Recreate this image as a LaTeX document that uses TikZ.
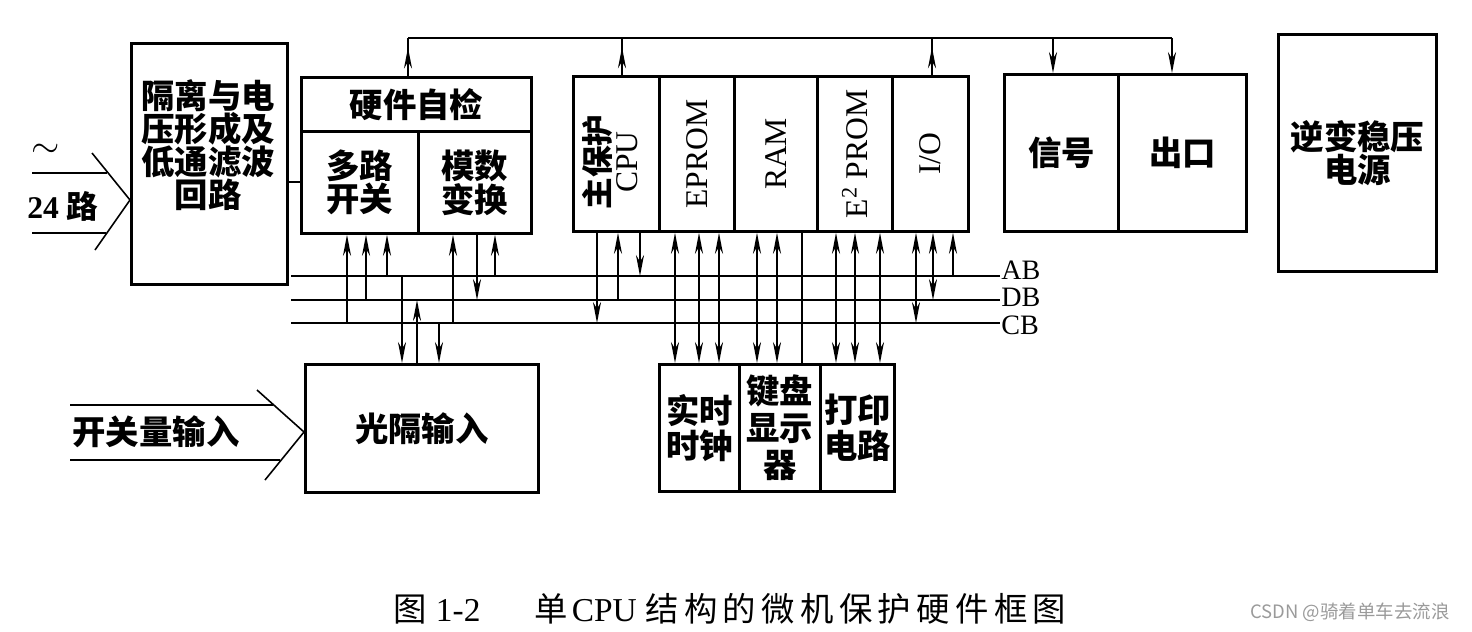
\documentclass[tikz,border=0pt]{standalone}
\usepackage{fontspec}
\setmainfont{Liberation Serif}
\newfontfamily\cjk{Noto Sans CJK SC}
\newfontfamily\cjkcap{Noto Sans CJK SC}[LetterSpace=16]
\usetikzlibrary{arrows.meta,decorations.markings}
\definecolor{wmgray}{HTML}{9A9A9A}
\newlength\pix
\setlength\pix{0.02cm}

\begin{document}
\begin{tikzpicture}[x=0.02cm, y=-0.02cm,
  >={Stealth[length=12pt,width=4.6pt]},
  box/.style={draw, line width=1.6pt, inner sep=0pt, anchor=north west},
  hz/.style={font=\cjk\bfseries\fontsize{19}{#1}\selectfont, align=center, inner sep=0pt},
  hz/.default=18,
  en/.style={font=\fontsize{18}{16}\selectfont, rotate=90, align=center, inner sep=0pt},
  buslabel/.style={font=\fontsize{16}{16}\selectfont, anchor=west, inner sep=0pt, text height=0.66em, text depth=0pt},
  bus/.style={line width=1.2pt},
  link/.style={line width=0.9pt},
  midarrow/.style={postaction={decorate}, decoration={markings, mark=at position #1 with {\arrow{>}}}}]
  \useasboundingbox (0,0) rectangle (1472,632);

  % Boxes
  \node[box, minimum width=156\pix, minimum height=241\pix] (isolate) at (130,42) {};
  \node[box, minimum width=230\pix, minimum height=54\pix] (selftest) at (300,76) {};
  \node[box, minimum width=117\pix, minimum height=102\pix] (mux) at (300,130) {};
  \node[box, minimum width=113\pix, minimum height=102\pix] (adc) at (417,130) {};
  \node[box, minimum width=86\pix, minimum height=155\pix] (cpu) at (572,75) {};
  \node[box, minimum width=75\pix, minimum height=155\pix] (eprom) at (658,75) {};
  \node[box, minimum width=83\pix, minimum height=155\pix] (ram) at (733,75) {};
  \node[box, minimum width=75\pix, minimum height=155\pix] (e2prom) at (816,75) {};
  \node[box, minimum width=76\pix, minimum height=155\pix] (io) at (891,75) {};
  \node[box, minimum width=114\pix, minimum height=157\pix] (sig) at (1003,73) {};
  \node[box, minimum width=128\pix, minimum height=157\pix] (out) at (1117,73) {};
  \node[box, minimum width=158\pix, minimum height=237\pix] (power) at (1277,33) {};
  \node[box, minimum width=233\pix, minimum height=128\pix] (opto) at (304,363) {};
  \node[box, minimum width=80\pix, minimum height=127\pix] (clock) at (658,363) {};
  \node[box, minimum width=81\pix, minimum height=127\pix] (keys) at (738,363) {};
  \node[box, minimum width=74\pix, minimum height=127\pix] (printer) at (819,363) {};

  % Box texts
  \node[hz=18.7] (isolate-txt) at (208,145) {隔离与电\\压形成及\\低通滤波\\回路};
  \node[hz] (selftest-txt) at (selftest.center) {硬件自检};
  \node[hz] (mux-txt) at (mux.center) {多路\\开关};
  \node[hz] (adc-txt) at (adc.center) {模数\\变换};
  \node[en] (cpu-txt) at (610,162) {{\cjk\bfseries 主保护}\\CPU};
  \node[en] (eprom-txt) at (eprom.center) {EPROM};
  \node[en] (ram-txt) at (ram.center) {RAM};
  \node[en] (e2prom-txt) at (e2prom.center) {E\textsuperscript{2} PROM};
  \node[en] (io-txt) at (io.center) {I/O};
  \node[hz] (sig-txt) at (sig.center) {信号};
  \node[hz] (out-txt) at (out.center) {出口};
  \node[hz=18.7] (power-txt) at (power.center) {逆变稳压\\电源};
  \node[hz] (opto-txt) at (opto.center) {光隔输入};
  \node[hz=19.8] (clock-txt) at (clock.center) {实时\\时钟};
  \node[hz=21] (keys-txt) at (keys.center) {键盘\\显示\\器};
  \node[hz=20.4] (printer-txt) at (printer.center) {打印\\电路};

  % Analog input, 24 channels
  \coordinate (acU) at (32,173);
  \coordinate (acL) at (32,233);
  \coordinate (acTip) at (isolate.west |- 0,200);
  \draw[link] (92,153) -- (acTip) -- (95,250);
  \draw[link] (acU) -- (107,173);
  \draw[link] (acL) -- (106,233);
  \node[font=\fontsize{20}{20}\selectfont, inner sep=0pt] (tilde) at (46,151) {$\sim$};
  \node[font=\bfseries\fontsize{18}{18}\selectfont, inner sep=0pt] (ch24) at (63,206) {24 {\cjk 路}};

  % Switch input
  \coordinate (swU) at (70,405);
  \coordinate (swL) at (70,460);
  \coordinate (swTip) at (opto.west |- 0,432);
  \draw[link] (257,390) -- (swTip) -- (265,480);
  \draw[link] (swU) -- (273,405);
  \draw[link] (swL) -- (280,460);
  \node[hz] (sw-txt) at (156,432) {开关量输入};

  % Analog path
  \draw[line width=1.6pt] (isolate.east |- 0,182) -- (mux.west |- 0,182);

  % Top bus
  \coordinate (topL) at (408,38);
  \coordinate (topR) at (1172,38);
  \draw[link] (topL) -- (topR);
  \draw[link, midarrow=0.75] (selftest.north -| topL) -- (topL);
  \draw[link, midarrow=0.75] (622,0 |- cpu.north) -- (622,0 |- topL);
  \draw[link, midarrow=0.75] (932,0 |- io.north) -- (932,0 |- topL);
  \draw[link,->] (1053,0 |- topL) -- (1053,0 |- sig.north);
  \draw[link,->] (topR) -- (topR |- out.north);

  % AB, DB, CB
  \coordinate (ABw) at (291,276);
  \coordinate (ABe) at (1000,276);
  \coordinate (DBw) at (291,300);
  \coordinate (DBe) at (1000,300);
  \coordinate (CBw) at (291,323);
  \coordinate (CBe) at (1000,323);
  \draw[bus] (ABw) -- (ABe);
  \draw[bus] (DBw) -- (DBe);
  \draw[bus] (CBw) -- (CBe);
  \node[buslabel] (ABl) at (1001,274) {AB};
  \node[buslabel] (DBl) at (1001,301) {DB};
  \node[buslabel] (CBl) at (1001,329) {CB};

  % Self-check links
  \draw[link,->] (347,0 |- CBw) -- (347,0 |- mux.south);
  \draw[link,->] (366,0 |- DBw) -- (366,0 |- mux.south);
  \draw[link,->] (387,0 |- ABw) -- (387,0 |- mux.south);
  \draw[link,->] (453,0 |- CBw) -- (453,0 |- adc.south);
  \draw[link,->] (477,0 |- adc.south) -- (477,0 |- DBw);
  \draw[link,->] (495,0 |- ABw) -- (495,0 |- adc.south);

  % Opto links
  \draw[link,->] (402,0 |- ABw) -- (402,0 |- opto.north);
  \draw[link,->] (417,0 |- opto.north) -- (417,0 |- DBw);
  \draw[link,->] (439,0 |- CBw) -- (439,0 |- opto.north);

  % CPU links
  \draw[link,->] (597,0 |- cpu.south) -- (597,0 |- CBw);
  \draw[link,->] (618,0 |- DBw) -- (618,0 |- cpu.south);
  \draw[link,->] (640,0 |- cpu.south) -- (640,0 |- ABw);

  % Memory to peripherals
  \draw[link,<->] (675,0 |- eprom.south) -- (675,0 |- clock.north);
  \draw[link,<->] (699,0 |- eprom.south) -- (699,0 |- clock.north);
  \draw[link,<->] (719,0 |- eprom.south) -- (719,0 |- clock.north);
  \draw[link,<->] (757,0 |- ram.south) -- (757,0 |- keys.north);
  \draw[link,<->] (777,0 |- ram.south) -- (777,0 |- keys.north);
  \draw[link] (802,0 |- ram.south) -- (802,0 |- keys.north);
  \draw[link,<->] (836,0 |- e2prom.south) -- (836,0 |- printer.north);
  \draw[link,<->] (855,0 |- e2prom.south) -- (855,0 |- printer.north);
  \draw[link,<->] (880,0 |- e2prom.south) -- (880,0 |- printer.north);

  % I/O links
  \draw[link,<->] (916,0 |- io.south) -- (916,0 |- CBw);
  \draw[link,<->] (933,0 |- io.south) -- (933,0 |- DBw);
  \draw[link,->] (953,0 |- ABw) -- (953,0 |- io.south);

  % Caption
  \node[font=\cjkcap\fontsize{19}{19}\selectfont, inner sep=0pt] (caption) at (730,609)
    {图\hspace{5pt}{\rmfamily 1-2}\hspace{31pt}单\hspace{2pt}{\rmfamily CPU}\hspace{5pt}结构的微机保护硬件框图};
  \node[font=\cjk\fontsize{10.5}{10.5}\selectfont, text=wmgray, inner sep=0pt] (wm) at (1350,612) {CSDN @骑着单车去流浪};
\end{tikzpicture}
\end{document}
